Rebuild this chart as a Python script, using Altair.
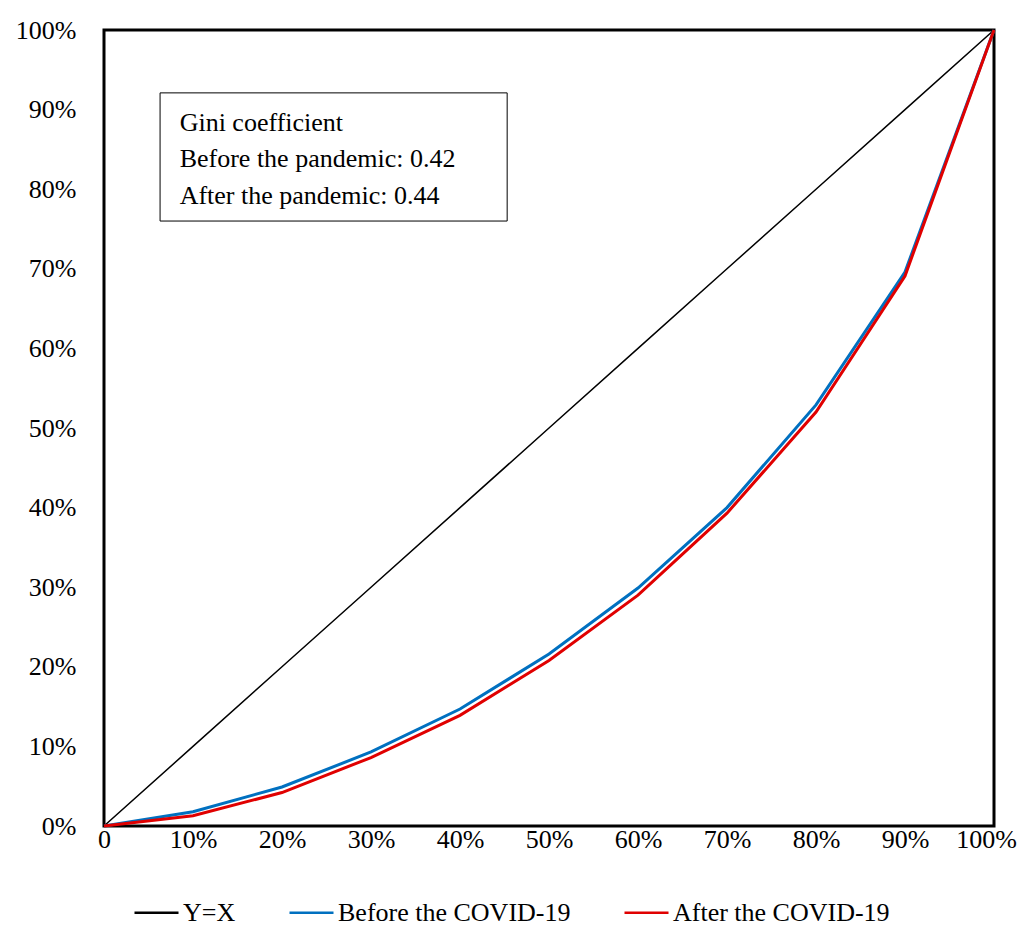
import altair as alt
import pandas as pd

share_pop = [0, 0.1, 0.2, 0.3, 0.4, 0.5, 0.6, 0.7, 0.8, 0.9, 1.0]
equality = [0, 0.1, 0.2, 0.3, 0.4, 0.5, 0.6, 0.7, 0.8, 0.9, 1.0]
before = [0, 0.018, 0.049, 0.093, 0.147, 0.216, 0.299, 0.400, 0.529, 0.696, 1.0]
after = [0, 0.013, 0.042, 0.086, 0.139, 0.208, 0.290, 0.393, 0.520, 0.691, 1.0]
series_names = ["Y=X", "Before the COVID-19", "After the COVID-19"]
series_colors = ["#000000", "#0070C0", "#E00000"]
series_widths = [1.5, 3, 3]
box_lines = ["Gini coefficient", "Before the pandemic: 0.42", "After the pandemic: 0.44"]

rows = []
for i, s in enumerate(series_names):
    vals = [equality, before, after][i]
    for x, y in zip(share_pop, vals):
        rows.append({"x": x, "y": y, "series": s, "order": i, "w": series_widths[i]})
df = pd.DataFrame(rows)

FONT = "Liberation Serif"
FS = 26

xs = alt.Scale(domain=[0, 1], nice=False)
ys = alt.Scale(domain=[0, 1], nice=False)

lines = alt.Chart(df).mark_line().encode(
    x=alt.X("x:Q", scale=xs, title=None,
            axis=alt.Axis(values=share_pop, labelExpr="datum.value == 0 ? '0' : format(datum.value, '.0%')",
                          grid=False, ticks=False, domain=False, labelPadding=0, labelFlush=False,
                          labelOffset={"condition": {"test": "datum.value == 1", "value": -8}, "value": 0},
                          labelFontSize=FS, labelFont=FONT, labelColor="black")),
    y=alt.Y("y:Q", scale=ys, title=None,
            axis=alt.Axis(values=share_pop, format=".0%", grid=False, ticks=False, domain=False,
                          labelPadding=28, labelFlush=False, labelFontSize=FS, labelFont=FONT,
                          labelColor="black")),
    color=alt.Color("series:N", scale=alt.Scale(domain=series_names, range=series_colors),
                    sort=series_names,
                    legend=alt.Legend(title=None, orient="none", direction="horizontal",
                                      legendX=29, legendY=859,
                                      symbolType="stroke", symbolSize=1936, symbolStrokeWidth=2.5,
                                      labelFontSize=FS, labelFont=FONT, labelColor="black",
                                      labelLimit=0, columnPadding=48, symbolOffset=0, labelOffset=3)),
    strokeWidth=alt.StrokeWidth("w:Q", scale=None, legend=None),
    detail="series:N",
    order=alt.Order("order:Q"),
)

box_df = pd.DataFrame({"x1": [0.063], "x2": [0.453], "y1": [0.760], "y2": [0.921]})
box = alt.Chart(box_df).mark_rect(fill="white", stroke="black", strokeWidth=1).encode(
    x=alt.X("x1:Q", scale=xs), x2="x2:Q", y=alt.Y("y1:Q", scale=ys), y2="y2:Q")

txt_df = pd.DataFrame({"t": box_lines, "x": [0.085] * 3, "y": [0.883, 0.838, 0.791]})
txt = alt.Chart(txt_df).mark_text(align="left", baseline="middle", fontSize=FS, font=FONT, color="black").encode(
    x=alt.X("x:Q", scale=xs), y=alt.Y("y:Q", scale=ys), text="t:N")

chart = alt.layer(lines, box, txt).properties(
    width=890, height=796,
    autosize=alt.AutoSizeParams(type="none"),
    padding={"left": 96, "top": 22, "right": 24, "bottom": 100},
).configure(background="white").configure_view(stroke="black", strokeWidth=3)

chart.save("out.html", embed_options={"renderer": "svg", "actions": False})
